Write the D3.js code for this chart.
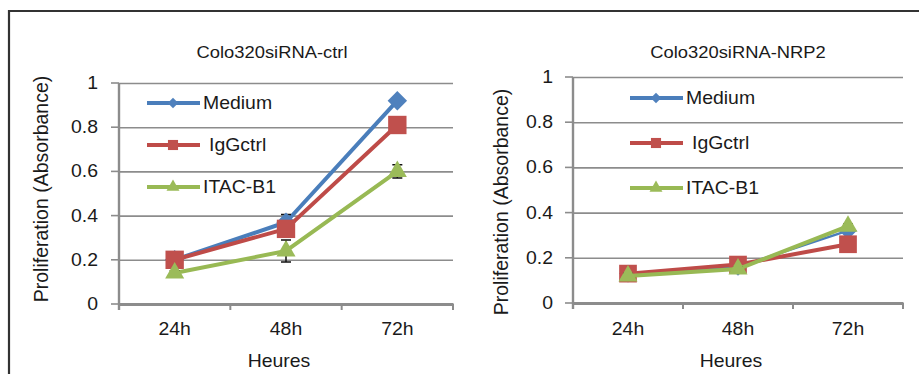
<!DOCTYPE html>
<html>
<head>
<meta charset="utf-8">
<script src="https://cdn.jsdelivr.net/npm/d3@7"></script>
<style>
  html, body { margin: 0; padding: 0; background: #fff; }
  svg { display: block; }
  text { font-family: "Liberation Sans", Arial, sans-serif; fill: #1a1a1a; }
</style>
</head>
<body>
<svg id="chart" width="919" height="374"></svg>
<script>
// ---- data ----
const categories = ["24h", "48h", "72h"];
const seriesNames = ["Medium", "IgGctrl", "ITAC-B1"];
const yTickValues = [0, 0.2, 0.4, 0.6, 0.8, 1];
const yTickLabels = ["0", "0.2", "0.4", "0.6", "0.8", "1"];

const ctrlTitle = "Colo320siRNA-ctrl";
const ctrlMedium = [0.20, 0.37, 0.92];
const ctrlIgG    = [0.20, 0.34, 0.81];
const ctrlITAC   = [0.14, 0.24, 0.60];
const ctrlMediumErr = [0.01, 0.035, 0.01];
const ctrlIgGErr    = [0.01, 0.02, 0.02];
const ctrlITACErr   = [0.01, 0.05, 0.03];

const nrpTitle = "Colo320siRNA-NRP2";
const nrpMedium = [0.13, 0.16, 0.32];
const nrpIgG    = [0.13, 0.17, 0.26];
const nrpITAC   = [0.12, 0.15, 0.34];
const nrpMediumErr = [0.01, 0.01, 0.01];
const nrpIgGErr    = [0.01, 0.01, 0.01];
const nrpITACErr   = [0.01, 0.01, 0.01];

const xTitle = "Heures";
const yTitle = "Proliferation (Absorbance)";

// ---- styles ----
const lineColors = ["#4A7EBB", "#BE4B48", "#98B954"];
const markColors = ["#4F81BD", "#C0504D", "#9BBB59"];
const markTypes = [d3.symbolDiamond2, d3.symbolSquare2, d3.symbolTriangle2];
const gridColor = "#8c8c8c";
const FS = 18;
const SX = 1.08;

const svg = d3.select("#chart");

// outer frame
svg.append("path")
  .attr("d", "M9,374 L9,11 L919,11")
  .attr("fill", "none").attr("stroke", "#333").attr("stroke-width", 2.2);

function htext(g, str, x, y, anchor, size) {
  return g.append("text")
    .attr("transform", `translate(${x},${y}) scale(${SX},1)`)
    .attr("text-anchor", anchor || "start")
    .attr("font-size", size || FS)
    .text(str);
}

function panel(cfg) {
  const g = svg.append("g");
  const x = d3.scaleBand().domain(categories).range([cfg.x0, cfg.x1]);
  const y = d3.scaleLinear().domain([0, 1]).range([cfg.yBot, cfg.yTop]);

  // gridlines
  const yAxis = d3.axisLeft(y).tickValues(yTickValues)
    .tickSize(-(cfg.x1 - cfg.x0)).tickFormat("");
  const ga = g.append("g").attr("transform", `translate(${cfg.x0},0)`).call(yAxis);
  ga.select(".domain").remove();
  ga.selectAll(".tick line").attr("stroke", gridColor).attr("stroke-width", 1.6);
  // small outside tick marks
  g.selectAll(".ytk").data(yTickValues).enter().append("line")
    .attr("x1", cfg.x0 - 8).attr("x2", cfg.x0)
    .attr("y1", d => y(d)).attr("y2", d => y(d))
    .attr("stroke", gridColor).attr("stroke-width", 1.6);
  // y tick labels
  yTickValues.forEach((v, i) => {
    htext(g, yTickLabels[i], cfg.labelRight, y(v) + 6, "end");
  });
  // y axis line
  g.append("line").attr("x1", cfg.x0).attr("x2", cfg.x0)
    .attr("y1", cfg.yTop).attr("y2", cfg.yBot + 6)
    .attr("stroke", gridColor).attr("stroke-width", 2.4);

  // x axis
  const xAxis = d3.axisBottom(x).tickSize(0).tickFormat("");
  const gx = g.append("g").attr("transform", `translate(0,${cfg.yBot})`).call(xAxis);
  gx.select(".domain").attr("stroke", gridColor).attr("stroke-width", 3);
  const bounds = categories.map(c => x(c)).concat([cfg.x1]);
  g.selectAll(".xtk").data(bounds).enter().append("line")
    .attr("x1", d => d).attr("x2", d => d)
    .attr("y1", cfg.yBot).attr("y2", cfg.yBot + 6)
    .attr("stroke", gridColor).attr("stroke-width", 2);
  categories.forEach(c => {
    htext(g, c, x(c) + x.bandwidth() / 2, 335, "middle");
  });
  htext(g, xTitle, (cfg.x0 + cfg.x1) / 2 - 7, 367, "middle");

  // titles
  htext(g, cfg.title, cfg.titleX, 58, "middle", 17);
  g.append("text")
    .attr("transform", `translate(${cfg.ytX},${cfg.ytY}) rotate(-90)`)
    .attr("text-anchor", "middle").attr("font-size", 19.5)
    .text(yTitle);

  // series
  const cx = c => x(c) + x.bandwidth() / 2;
  cfg.series.forEach((vals, si) => {
    const line = d3.line().x((d, i) => cx(categories[i])).y(d => y(d));
    g.append("path").attr("d", line(vals))
      .attr("fill", "none").attr("stroke", lineColors[si])
      .attr("stroke-width", cfg.lineW[si]).attr("stroke-linejoin", "round");
    vals.forEach((v, i) => {
      const e = cfg.errs[si][i];
      const px = cx(categories[i]);
      g.append("path")
        .attr("d", `M${px},${y(v - e)}V${y(v + e)}M${px - 5},${y(v - e)}H${px + 5}M${px - 5},${y(v + e)}H${px + 5}`)
        .attr("stroke", "#111").attr("stroke-width", 1.5).attr("fill", "none");
    });
    g.selectAll(null).data(vals).enter().append("path")
      .attr("d", d3.symbol().type(markTypes[si]).size(cfg.markSize[si]))
      .attr("transform", (d, i) => `translate(${cx(categories[i])},${y(d)})`)
      .attr("fill", markColors[si]);
  });

  // legend
  seriesNames.forEach((name, si) => {
    const ly = cfg.legY[si];
    g.append("line").attr("x1", cfg.legX).attr("x2", cfg.legX + 53)
      .attr("y1", ly).attr("y2", ly)
      .attr("stroke", lineColors[si]).attr("stroke-width", 4);
    g.append("path")
      .attr("d", d3.symbol().type(markTypes[si]).size([70, 130, 120][si]))
      .attr("transform", `translate(${cfg.legX + 26},${ly})`)
      .attr("fill", markColors[si]);
    htext(g, name, cfg.legX + (si === 1 ? 62 : 56), ly + 6, "start");
  });
}

panel({
  title: ctrlTitle, titleX: 272,
  x0: 119, x1: 453, yTop: 83, yBot: 304, labelRight: 98,
  ytX: 48, ytY: 189,
  series: [ctrlMedium, ctrlIgG, ctrlITAC],
  errs: [ctrlMediumErr, ctrlIgGErr, ctrlITACErr],
  lineW: [4, 4, 4], markSize: [240, 430, 260],
  legX: 147, legY: [103, 145, 187]
});

panel({
  title: nrpTitle, titleX: 738,
  x0: 573, x1: 903, yTop: 77, yBot: 303, labelRight: 553,
  ytX: 508, ytY: 202,
  series: [nrpMedium, nrpIgG, nrpITAC],
  errs: [nrpMediumErr, nrpIgGErr, nrpITACErr],
  lineW: [2.5, 4, 4], markSize: [200, 400, 260],
  legX: 630, legY: [98, 143, 188]
});
</script>
</body>
</html>
